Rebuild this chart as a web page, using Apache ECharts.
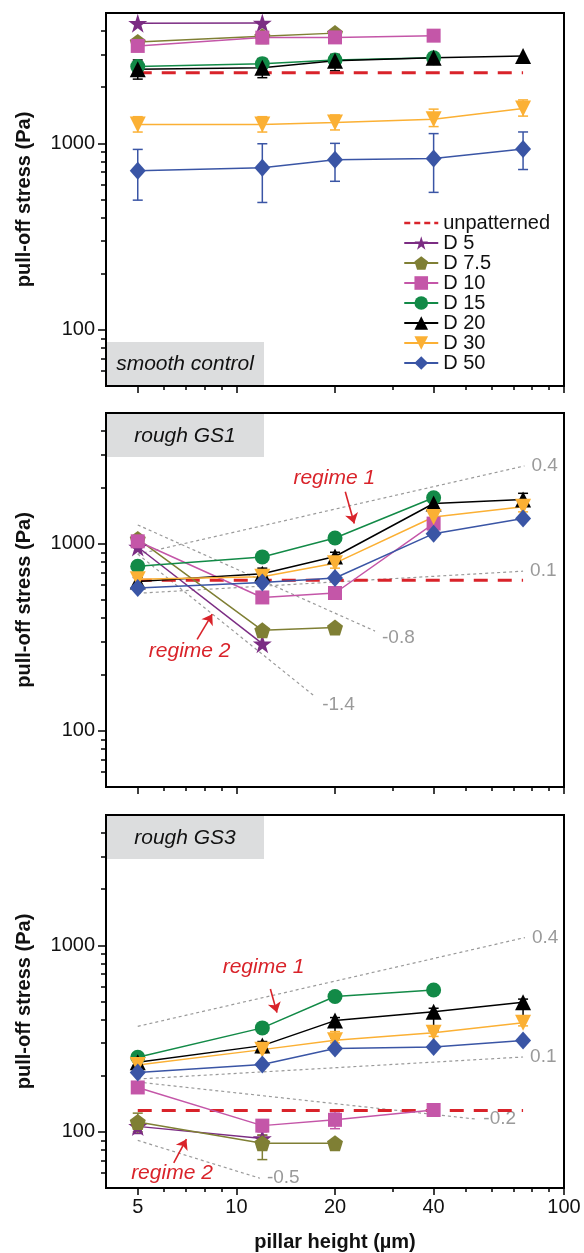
<!DOCTYPE html>
<html>
<head>
<meta charset="utf-8">
<script src="https://cdn.jsdelivr.net/npm/echarts@6/dist/echarts.min.js"></script>
<style>html,body{margin:0;padding:0;background:#fff}#c{width:584px;height:1253px}</style>
</head>
<body>
<div id="c"></div>
<script>
// ---------- data ----------
const pillarHeights = [5, 12, 20, 40, 75];
const xMajorTicks = [5, 10, 20, 40, 100];
const xMinorTicks = [6, 7, 8, 9, 30, 50, 60, 70, 80, 90];
const yMajorTicks = [100, 1000];
const yMinorTicks = [60, 70, 80, 90, 200, 300, 400, 500, 600, 700, 800, 900, 2000, 3000, 4000];

const seriesNames = ['D 5', 'D 7.5', 'D 10', 'D 15', 'D 20', 'D 30', 'D 50'];
const panelTitles = ['smooth control', 'rough GS1', 'rough GS3'];

// smooth control
const smooth_D5 = [4400, 4420];
const smooth_D7_5 = [3500, 3750, 3900];
const smooth_D10 = [3330, 3690, 3700, 3780];
const smooth_D15 = [2580, 2670, 2800, 2880];
const smooth_D20 = [2500, 2540, 2770, 2880, 2940];
const smooth_D30 = [1262, 1262, 1293, 1348, 1540];
const smooth_D50 = [714, 739, 816, 830, 932];
const smooth_unpatterned = 2390;
const smooth_err_D20 = [[2210, 2800], [2250, 2850], [2450, 3000], null, null];
const smooth_err_D30 = [[1150, 1390], [1150, 1390], [1180, 1420], [1230, 1526], [1400, 1710]];
const smooth_err_D50 = [[496, 928], [482, 995], [626, 1000], [546, 1128], [724, 1151]];

// rough GS1
const gs1_D5 = [960, 292];
const gs1_D7_5 = [1060, 344, 356];
const gs1_D10 = [1030, 516, 545, 1281];
const gs1_D15 = [757, 850, 1072, 1762];
const gs1_D20 = [627, 690, 854, 1641, 1725];
const gs1_D30 = [645, 665, 787, 1390, 1575];
const gs1_D50 = [580, 621, 656, 1132, 1364];
const gs1_unpatterned = 637;
const gs1_err_D20 = [[600, 660], [650, 740], [810, 900], [1500, 1820], [1600, 1860]];
const gs1_err_D30 = [[610, 680], [630, 700], [740, 830], [1300, 1480], [1480, 1680]];
const gs1_slopes = [['0.4', 5, 879, 75.7, 2606], ['0.1', 5, 543, 75, 713], ['-0.8', 5, 1260, 26.5, 341], ['-1.4', 5, 880, 17.4, 152]];
const gs1_regimeText = [['regime 1', 19.9, 2254], ['regime 2', 7.2, 266]];
const gs1_arrows = [[21.5, 1897, 22.9, 1282], [7.59, 308, 8.44, 420]];

// rough GS3
const gs3_D5 = [107, 92];
const gs3_D7_5 = [113, 87, 87];
const gs3_D10 = [173, 108, 116, 131];
const gs3_D15 = [251, 361, 532, 576];
const gs3_D20 = [236, 290, 395, 440, 495];
const gs3_D30 = [228, 276, 310, 340, 385];
const gs3_D50 = [208, 230, 280, 285, 309];
const gs3_unpatterned = 130;
const gs3_err_D5 = [[98, 112], [88, 96]];
const gs3_err_D7_5 = [[100, 126], [71, 96], null];
const gs3_err_D10 = [[166, 180], [100, 116], [104, 128], [126, 136]];
const gs3_err_D20 = [[225, 250], [275, 305], [319, 410], [348, 460], [409, 515]];
const gs3_err_D30 = [[215, 240], [265, 290], [300, 345], [325, 365], [370, 405]];
const gs3_slopes = [['0.4', 5, 368, 76, 1101], ['0.1', 5, 192, 75, 252], ['-0.2', 5, 185, 54, 117], ['-0.5', 5, 90, 11.8, 56.4]];
const gs3_regimeText = [['regime 1', 12.1, 764], ['regime 2', 6.36, 60.3]];
const gs3_arrows = [[12.7, 584, 13.3, 436], [6.44, 68.2, 7.04, 91.4]];

// ---------- styles ----------
const FONT = 'Liberation Sans, Arial, Helvetica, sans-serif';
const STAR = 'path://M50,0L61.2,34.5L97.6,34.5L68.2,55.9L79.4,90.5L50,69.1L20.6,90.5L31.8,55.9L2.4,34.5L38.8,34.5Z';
const PENT = 'path://M50,0L97.6,34.5L79.4,90.5L20.6,90.5L2.4,34.5Z';
const seriesColors = ['#7B2C83', '#7F7F34', '#C456A8', '#128A47', '#000000', '#FBB034', '#3A55A5'];
const seriesSymbols = [STAR, PENT, 'rect', 'circle', 'triangle', 'triangle', 'diamond'];
const seriesSymbolSizes = [19, 16, 14, 15, 16, 16, [16, 18]];
const seriesRotates = [0, 0, 0, 0, 0, 180, 0];
const RED = '#D9232A';
const GRAY = '#9A9A9A';

const panelValues = [
  [smooth_D5, smooth_D7_5, smooth_D10, smooth_D15, smooth_D20, smooth_D30, smooth_D50],
  [gs1_D5, gs1_D7_5, gs1_D10, gs1_D15, gs1_D20, gs1_D30, gs1_D50],
  [gs3_D5, gs3_D7_5, gs3_D10, gs3_D15, gs3_D20, gs3_D30, gs3_D50]
];
const panelUnpat = [smooth_unpatterned, gs1_unpatterned, gs3_unpatterned];
const panelErrors = [
  [null, null, null, null, smooth_err_D20, smooth_err_D30, smooth_err_D50],
  [null, null, null, null, gs1_err_D20, gs1_err_D30, null],
  [gs3_err_D5, gs3_err_D7_5, gs3_err_D10, null, gs3_err_D20, gs3_err_D30, null]
];
const panelSlopes = [[], gs1_slopes, gs3_slopes];
const panelRegimeText = [[], gs1_regimeText, gs3_regimeText];
const panelArrows = [[], gs1_arrows, gs3_arrows];

const gridRects = [
  {left: 106, top: 13, width: 458, height: 373},
  {left: 106, top: 413, width: 458, height: 374},
  {left: 106, top: 815, width: 458, height: 373}
];

const xAxes = [], yAxes = [], series = [];
const tickLine = {color: '#000', width: 1.5};

gridRects.forEach((g, k) => {
  xAxes.push({
    type: 'log', logBase: 10, gridIndex: k, min: 4, max: 100, position: 'bottom',
    axisLine: {show: true, onZero: false, lineStyle: {color: '#000', width: 2}},
    axisTick: {show: true, customValues: xMajorTicks, length: 7, lineStyle: tickLine},
    axisLabel: {show: k === 2, customValues: xMajorTicks, formatter: v => String(v),
      fontSize: 20, color: '#111', margin: 9, fontFamily: FONT},
    splitLine: {show: false}, minorTick: {show: false},
    name: k === 2 ? 'pillar height (µm)' : '', nameLocation: 'middle', nameGap: 44,
    nameTextStyle: {fontWeight: 'bold', fontSize: 20, color: '#111', fontFamily: FONT}
  });
  xAxes.push({
    type: 'log', logBase: 10, gridIndex: k, min: 4, max: 100, position: 'bottom',
    axisLine: {show: false},
    axisTick: {show: true, customValues: xMinorTicks, length: 4, lineStyle: tickLine},
    axisLabel: {show: false}, splitLine: {show: false}
  });
  yAxes.push({
    type: 'log', logBase: 10, gridIndex: k, min: 50, max: 5000, position: 'left',
    axisLine: {show: true, onZero: false, lineStyle: {color: '#000', width: 2}},
    axisTick: {show: true, customValues: yMajorTicks, length: 8, lineStyle: tickLine},
    axisLabel: {show: true, customValues: yMajorTicks, formatter: v => String(v),
      fontSize: 20, color: '#111', margin: 11, fontFamily: FONT},
    splitLine: {show: false}, minorTick: {show: false},
    name: 'pull-off stress (Pa)', nameLocation: 'middle', nameGap: 72,
    nameTextStyle: {fontWeight: 'bold', fontSize: 20, color: '#111', fontFamily: FONT}
  });
  yAxes.push({
    type: 'log', logBase: 10, gridIndex: k, min: 50, max: 5000, position: 'left',
    axisLine: {show: false},
    axisTick: {show: true, customValues: yMinorTicks, length: 5, lineStyle: tickLine},
    axisLabel: {show: false}, splitLine: {show: false}
  });

  const xi = 2 * k, yi = 2 * k;

  // slope guide lines
  panelSlopes[k].forEach(s => {
    series.push({
      type: 'line', name: 'slope ' + s[0], xAxisIndex: xi, yAxisIndex: yi, z: 1,
      data: [[s[1], s[2]], [s[3], s[4]]], symbol: 'none', silent: true,
      lineStyle: {color: GRAY, width: 1.2, type: [3, 3]},
      endLabel: {show: true, formatter: s[0], color: GRAY, fontSize: 19, fontFamily: FONT, distance: 7,
        offset: s[0] === '-0.8' ? [0, 7] : (s[0] === '-1.4' ? [0, 8] : [0, 0])}
    });
  });

  // unpatterned reference + annotations
  const u = panelUnpat[k];
  series.push({
    type: 'line', name: 'unpatterned', xAxisIndex: xi, yAxisIndex: yi, z: 2,
    data: [[5, u], [75, u]], symbol: 'none',
    itemStyle: {color: RED},
    lineStyle: {color: RED, width: 3, type: [14, 10]},
    markPoint: panelRegimeText[k].length ? {
      symbol: 'circle', symbolSize: 0, silent: true,
      label: {show: true, position: 'inside', formatter: '{b}', color: RED, fontStyle: 'italic',
        fontSize: 21, fontFamily: FONT},
      data: panelRegimeText[k].map(r => ({name: r[0], coord: [r[1], r[2]]}))
    } : undefined,
    markLine: panelArrows[k].length ? {
      silent: true, symbol: ['none', 'arrow'], symbolSize: 10,
      label: {show: false},
      lineStyle: {color: RED, width: 1.6, type: 'solid'},
      data: panelArrows[k].map(a => [{coord: [a[0], a[1]]}, {coord: [a[2], a[3]]}])
    } : undefined
  });

  // error bars
  const errData = [];
  panelErrors[k].forEach((errs, si) => {
    if (!errs) return;
    errs.forEach((e, i) => { if (e) errData.push([pillarHeights[i], e[0], e[1], si]); });
  });
  series.push({
    type: 'custom', name: 'errors' + k, xAxisIndex: xi, yAxisIndex: yi, z: 1, silent: true,
    encode: {x: 0, y: [1, 2]},
    data: errData,
    renderItem: (params, api) => {
      const x = api.value(0), lo = api.value(1), hi = api.value(2), ci = api.value(3);
      const p1 = api.coord([x, lo]), p2 = api.coord([x, hi]);
      const st = {stroke: seriesColors[ci], lineWidth: 1.5};
      const w = 5;
      return {type: 'group', children: [
        {type: 'line', shape: {x1: p1[0], y1: p1[1], x2: p2[0], y2: p2[1]}, style: st},
        {type: 'line', shape: {x1: p1[0] - w, y1: p1[1], x2: p1[0] + w, y2: p1[1]}, style: st},
        {type: 'line', shape: {x1: p2[0] - w, y1: p2[1], x2: p2[0] + w, y2: p2[1]}, style: st}
      ]};
    }
  });

  // data series
  panelValues[k].forEach((vals, si) => {
    series.push({
      type: 'line', name: seriesNames[si], xAxisIndex: xi, yAxisIndex: yi, z: 3,
      data: vals.map((v, i) => [pillarHeights[i], v]),
      symbol: seriesSymbols[si], symbolSize: seriesSymbolSizes[si], symbolRotate: seriesRotates[si],
      showAllSymbol: true,
      itemStyle: {color: seriesColors[si], opacity: 1},
      lineStyle: {color: seriesColors[si], width: 1.5}
    });
  });
});

const graphic = [];
const boxTops = [342, 414, 816];
const boxTextY = [364, 436, 838];
panelTitles.forEach((t, k) => {
  graphic.push({type: 'rect', left: 107, top: boxTops[k], z: 0,
    shape: {width: 157, height: 43}, style: {fill: '#DCDDDE'}});
  graphic.push({type: 'text', x: 185, y: boxTextY[k], z: 1,
    style: {text: t, fill: '#111', font: 'italic 21px ' + FONT, align: 'center', verticalAlign: 'middle'}});
});

const legendData = [{name: 'unpatterned', itemStyle: {opacity: 0}, lineStyle: {type: [6, 4], width: 2.5, color: RED}}]
  .concat(seriesNames.map(n => ({name: n})));

const option = {
  animation: false,
  backgroundColor: '#fff',
  textStyle: {fontFamily: FONT},
  grid: gridRects.map(g => Object.assign({show: true, borderColor: '#000', borderWidth: 2, backgroundColor: 'transparent'}, g)),
  xAxis: xAxes,
  yAxis: yAxes,
  legend: {
    show: true, orient: 'vertical', left: 403, top: 213, padding: 0,
    itemWidth: 34, itemHeight: 17, itemGap: 0,
    textStyle: {fontSize: 20, color: '#111', fontFamily: FONT, lineHeight: 20},
    selectedMode: false,
    data: legendData
  },
  graphic: graphic,
  series: series
};

const chart = echarts.init(document.getElementById('c'), null, {renderer: 'canvas'});
chart.setOption(option);
</script>
</body>
</html>
